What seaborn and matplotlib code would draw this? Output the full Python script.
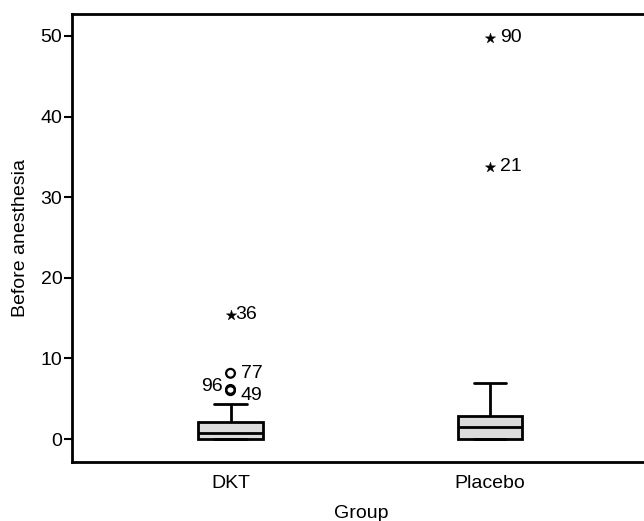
import numpy as np
import pandas as pd
import seaborn as sns
import matplotlib
matplotlib.use("Agg")
import matplotlib.pyplot as plt

# ---- data ----
groups = ["DKT", "Placebo"]
dkt_values = [0, 0, 0, 0, 0, 0, 0.3, 0.5, 0.6, 0.7, 0.8, 1.0, 1.3, 1.6, 1.9,
              2.15, 4.35, 6.0, 6.15, 8.15, 15.4]
dkt_case_ids = [1, 2, 3, 4, 5, 6, 7, 8, 9, 10, 11, 12, 13, 14, 15,
                16, 17, 49, 96, 77, 36]
placebo_values = [0, 0, 0, 0, 0, 0, 0.3, 0.6, 0.9, 1.2, 1.5, 1.8, 2.1, 2.4, 2.7,
                  2.9, 4.0, 5.5, 6.9, 33.8, 49.8]
placebo_case_ids = [51, 52, 53, 54, 55, 56, 57, 58, 59, 60, 61, 62, 63, 64, 65,
                    66, 67, 68, 69, 21, 90]
left_labelled_cases = [96]
y_ticks = [0, 10, 20, 30, 40, 50]

df = pd.DataFrame({
    "Group": ["DKT"] * len(dkt_values) + ["Placebo"] * len(placebo_values),
    "Value": dkt_values + placebo_values,
    "Case": dkt_case_ids + placebo_case_ids,
})

# ---- style ----
sns.set_style("white")
plt.rcParams["font.family"] = ["Liberation Sans", "DejaVu Sans"]
plt.rcParams["text.color"] = "black"
plt.rcParams["axes.labelcolor"] = "black"
plt.rcParams["xtick.color"] = "black"
plt.rcParams["ytick.color"] = "black"

FS = 14
W, H = 644, 521
fig = plt.figure(figsize=(W / 100, H / 100), dpi=100)
ax_left, ax_right, ax_top, ax_bottom = 72, 650, 14, 462
ax = fig.add_axes([ax_left / W, (H - ax_bottom) / H,
                   (ax_right - ax_left) / W, (ax_bottom - ax_top) / H])

line_kw = dict(color="black", linewidth=2)
sns.boxplot(data=df, x="Group", y="Value", order=groups, ax=ax,
            width=0.25, whis=1.5, showfliers=False,
            boxprops=dict(facecolor="#dcdcdc", edgecolor="black", linewidth=2),
            medianprops=line_kw, whiskerprops=line_kw, capprops=line_kw)

# outliers (SPSS style: circle = mild, star = extreme)
recs = []
for i, g in enumerate(groups):
    sub = df[df["Group"] == g]
    q1, q3 = np.percentile(sub["Value"], [25, 75])
    iqr = q3 - q1
    for _, r in sub.iterrows():
        v = r["Value"]
        if v > q3 + 1.5 * iqr or v < q1 - 1.5 * iqr:
            kind = "extreme" if (v > q3 + 3 * iqr or v < q1 - 3 * iqr) else "mild"
            recs.append(dict(x=i, y=v, kind=kind, case=int(r["Case"])))
out = pd.DataFrame(recs)

mild = out[out["kind"] == "mild"]
ext = out[out["kind"] == "extreme"]
sns.scatterplot(data=mild, x="x", y="y", ax=ax, marker="o", s=40,
                facecolor="none", edgecolor="black", linewidth=1.6, zorder=5)
sns.scatterplot(data=ext, x="x", y="y", ax=ax, marker="*", s=60,
                color="black", edgecolor="black", linewidth=0.3, zorder=5)

for _, r in out.iterrows():
    if r["case"] in left_labelled_cases:
        ax.annotate(str(r["case"]), (r["x"], r["y"]), xytext=(-8, 3),
                    textcoords="offset pixels", ha="right", va="center", fontsize=FS)
    else:
        dx = 5 if (r["kind"] == "extreme" and r["x"] == 0) else 10
        dy = -5 if r["case"] == 49 else 0
        ax.annotate(str(r["case"]), (r["x"], r["y"]), xytext=(dx, dy),
                    textcoords="offset pixels", ha="left", va="center", fontsize=FS)

# axes
sp = 259.5
x_left = -(230.5 - ax_left) / sp
ax.set_xlim(x_left, x_left + (ax_right - ax_left) / sp)
ppu = (439 - 36) / 50.0
ax.set_ylim(-(ax_bottom - 439) / ppu, (439 - ax_top) / ppu)
ax.set_yticks(y_ticks)
ax.set_xlabel("Group", fontsize=FS, labelpad=9)
ax.set_ylabel("Before anesthesia", fontsize=FS, labelpad=8)
ax.tick_params(axis="y", which="both", left=True, length=6, width=1.5,
               labelsize=FS, pad=1)
ax.tick_params(axis="x", bottom=False, labelsize=FS, pad=6)
for s in ax.spines.values():
    s.set_color("black")
    s.set_linewidth(2)

fig.savefig("out.png", dpi=100)
